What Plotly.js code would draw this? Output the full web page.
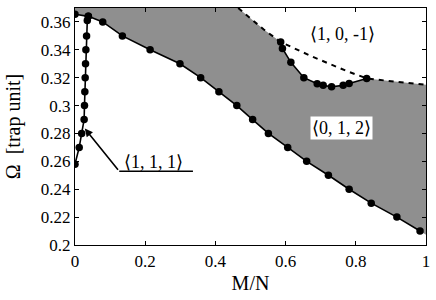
<!DOCTYPE html>
<html>
<head>
<meta charset="utf-8">
<script src="https://cdn.plot.ly/plotly-3.0.1.min.js"></script>
<style>html,body{margin:0;padding:0;background:#fff}</style>
</head>
<body>
<div id="chart" style="width:436px;height:300px"></div>
<script>
// Lower boundary of the <0,1,2> region (solid with dots)
const lowX = [0, 0.038, 0.079, 0.135, 0.214, 0.299, 0.358, 0.410, 0.461, 0.506, 0.551, 0.606, 0.660, 0.722, 0.781, 0.844, 0.917, 0.983];
const lowY = [0.3655, 0.364, 0.360, 0.350, 0.340, 0.330, 0.320, 0.310, 0.300, 0.290, 0.280, 0.270, 0.260, 0.250, 0.240, 0.230, 0.220, 0.210];
// <1,1,1> branch (solid with dots)
const c111X = [0, 0.012, 0.019, 0.026, 0.027, 0.028, 0.029, 0.030, 0.031, 0.033, 0.035, 0.038];
const c111Y = [0.258, 0.270, 0.280, 0.290, 0.300, 0.310, 0.320, 0.330, 0.340, 0.350, 0.361, 0.364];
// <1,0,-1> branch (solid with dots)
const c101X = [0.586, 0.591, 0.615, 0.652, 0.690, 0.707, 0.731, 0.764, 0.781, 0.831];
const c101Y = [0.3456, 0.341, 0.331, 0.320, 0.3157, 0.3145, 0.3135, 0.3145, 0.3159, 0.3195];
// Dashed boundary
const dashX = [0.465, 0.499, 0.537, 0.586, 0.678, 0.774, 0.831, 0.91, 1.0];
const dashY = [0.370, 0.3631, 0.3547, 0.3456, 0.3349, 0.3248, 0.3195, 0.3172, 0.315];
// Region corners (lower-right extrapolation, upper-left corner)
const cornerLR = [1.0, 0.2074];
const cornerUL = [0, 0.37];
// Tick labels
const xTicks = [0, 0.2, 0.4, 0.6, 0.8, 1];
const yTicks = [0.2, 0.22, 0.24, 0.26, 0.28, 0.3, 0.32, 0.34, 0.36];

// Build gray region polygon from the boundaries
const dashLeftX = [], dashLeftY = [], dashRightX = [], dashRightY = [];
dashX.forEach((x, i) => {
  if (x <= c101X[0]) { dashLeftX.push(x); dashLeftY.push(dashY[i]); }
  if (x > c101X[c101X.length - 1]) { dashRightX.push(x); dashRightY.push(dashY[i]); }
});
const fillX = [...lowX, cornerLR[0], ...dashRightX.slice().reverse(), ...c101X.slice().reverse(), ...dashLeftX.slice().reverse(), cornerUL[0]];
const fillY = [...lowY, cornerLR[1], ...dashRightY.slice().reverse(), ...c101Y.slice().reverse(), ...dashLeftY.slice().reverse(), cornerUL[1]];

const serif = 'Liberation Serif';
const mk = {color: '#000', size: 7.5};
const ln = {color: '#000', width: 1.6};

const traces = [
  {x: fillX, y: fillY, mode: 'lines', fill: 'toself', fillcolor: '#8f8f8f', line: {width: 0}, hoverinfo: 'skip', showlegend: false},
  {x: dashX, y: dashY, mode: 'lines', line: {color: '#000', width: 2, dash: '5px,5px'}, showlegend: false},
  {x: lowX, y: lowY, mode: 'lines+markers', line: ln, marker: mk, showlegend: false},
  {x: c111X, y: c111Y, mode: 'lines+markers', line: ln, marker: mk, showlegend: false},
  {x: c101X, y: c101Y, mode: 'lines+markers', line: ln, marker: mk, showlegend: false}
];

const axisCommon = {
  showgrid: false, zeroline: false, showline: true, linecolor: '#000', linewidth: 1.2,
  mirror: 'ticks', ticks: 'inside', ticklen: 4, tickcolor: '#000', tickwidth: 1,
  tickfont: {family: serif, size: 17, color: '#000'}
};

const layout = {
  width: 436, height: 300,
  margin: {l: 75, r: 10, t: 8, b: 55},
  paper_bgcolor: '#fff', plot_bgcolor: '#fff',
  font: {family: serif, color: '#000'},
  xaxis: Object.assign({}, axisCommon, {
    range: [0, 1], tickvals: xTicks, ticktext: xTicks.map(String),
    title: {text: 'M/N', font: {family: serif, size: 20, color: '#000'}, standoff: 6}
  }),
  yaxis: Object.assign({}, axisCommon, {
    range: [0.2, 0.37], tickvals: yTicks, ticktext: yTicks.map(String),
    title: {text: 'Ω  [trap unit]', font: {family: serif, size: 20, color: '#000'}, standoff: 14}
  }),
  shapes: [
    {type: 'line', xref: 'x', yref: 'y', x0: 0.126, x1: 0.336, y0: 0.2529, y1: 0.2529, line: {color: '#000', width: 1.6}}
  ],
  annotations: [
    {x: 0.028, y: 0.2835, ax: 0.126, ay: 0.2529, axref: 'x', ayref: 'y', xref: 'x', yref: 'y', text: '', showarrow: true, arrowhead: 2, arrowsize: 1, arrowwidth: 1.6, arrowcolor: '#000'},
    {x: 0.225, y: 0.2595, xref: 'x', yref: 'y', text: '⟨1, 1, 1⟩', showarrow: false, font: {family: serif, size: 18, color: '#000'}},
    {x: 0.763, y: 0.351, xref: 'x', yref: 'y', text: '⟨1, 0, -1⟩', showarrow: false, font: {family: serif, size: 18, color: '#000'}},
    {x: 0.758, y: 0.284, xref: 'x', yref: 'y', text: '⟨0, 1, 2⟩', showarrow: false, bgcolor: '#fff', borderpad: 1, font: {family: serif, size: 18, color: '#000'}}
  ]
};

Plotly.newPlot('chart', traces, layout, {displayModeBar: false, staticPlot: true});
</script>
</body>
</html>
